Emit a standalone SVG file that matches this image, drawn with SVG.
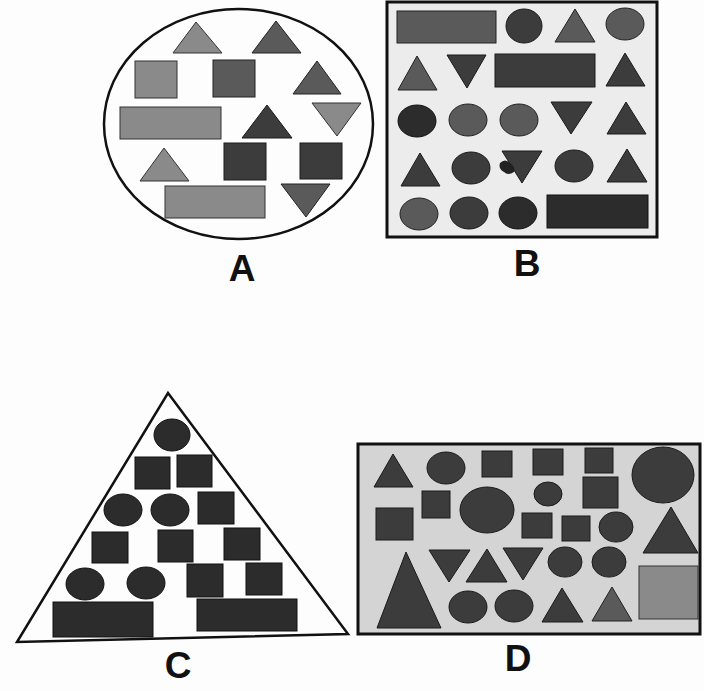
<svg xmlns="http://www.w3.org/2000/svg" width="704" height="691" viewBox="0 0 704 691">
<style>
.frame{fill:none;stroke:#111;stroke-width:2.5}
.lt{fill:#8a8a8a;stroke:#333;stroke-width:1}
.md{fill:#5a5a5a;stroke:#222;stroke-width:1}
.dk{fill:#3c3c3c;stroke:#1a1a1a;stroke-width:1}
.vd{fill:#2c2c2c;stroke:#111;stroke-width:1}
.lbl{font-family:"Liberation Sans",Arial,sans-serif;font-weight:bold;font-size:37px;fill:#111;text-anchor:middle}
</style>
<rect width="704" height="691" fill="#fdfdfd"/>

<g id="panelA">
<ellipse class="frame" cx="238.5" cy="124" rx="134.5" ry="115" fill="#fbfbfb"/>
<polygon class="lt" points="196,22 222,53 173,53"/>
<polygon class="md" points="276,21 301,53 252,53"/>
<rect class="lt" x="135" y="61" width="42" height="37"/>
<rect class="md" x="213" y="60" width="42" height="37"/>
<polygon class="md" points="317,61 341,94 293,94"/>
<rect class="lt" x="120" y="107" width="101" height="32"/>
<polygon class="dk" points="267,105 292,138 242,138"/>
<polygon class="lt" points="312,103 361,103 337,136"/>
<polygon class="lt" points="164,148 189,181 140,181"/>
<rect class="dk" x="224" y="143" width="42" height="37"/>
<rect class="dk" x="300" y="143" width="42" height="36"/>
<rect class="lt" x="165" y="186" width="100" height="32"/>
<polygon class="md" points="281,184 330,184 306,217"/>
<text class="lbl" x="242" y="281">A</text>
</g>

<g id="panelB">
<rect x="387" y="2" width="270" height="235" fill="#ececec" stroke="#111" stroke-width="3"/>
<rect class="md" x="397" y="11" width="99" height="32"/>
<ellipse class="dk" cx="524" cy="26" rx="18" ry="17"/>
<polygon class="md" points="575,9 595,42 555,42"/>
<ellipse class="md" cx="625" cy="24" rx="19" ry="16"/>
<polygon class="md" points="417,56 437,90 398,90"/>
<polygon class="dk" points="447,55 486,55 467,88"/>
<rect class="dk" x="495" y="54" width="100" height="33"/>
<polygon class="dk" points="625,53 645,86 606,86"/>
<ellipse class="vd" cx="417" cy="121" rx="19" ry="16"/>
<ellipse class="md" cx="468" cy="120" rx="19" ry="16"/>
<ellipse class="md" cx="519" cy="120" rx="19" ry="16"/>
<polygon class="dk" points="551,102 592,102 571,134"/>
<polygon class="dk" points="626,102 646,134 607,134"/>
<polygon class="dk" points="420,153 440,186 401,186"/>
<ellipse class="dk" cx="471" cy="168" rx="19" ry="16"/>
<polygon class="dk" points="502,151 542,151 522,183"/>
<path d="M500,163 q5,-5 10,0 q6,4 4,9 q-6,4 -10,0 q-6,-3 -4,-9z" fill="#222"/>
<ellipse class="dk" cx="574" cy="166" rx="19" ry="16"/>
<polygon class="dk" points="627,149 647,182 607,182"/>
<ellipse class="md" cx="419" cy="214" rx="19" ry="16"/>
<ellipse class="dk" cx="469" cy="213" rx="19" ry="16"/>
<ellipse class="vd" cx="518" cy="213" rx="19" ry="16"/>
<rect class="vd" x="547" y="195" width="101" height="33"/>
<text class="lbl" x="527" y="276">B</text>
</g>

<g id="panelC">
<polygon class="frame" points="168,393 348,634 17,642" fill="#fcfcfc"/>
<ellipse class="vd" cx="172" cy="435" rx="18" ry="16"/>
<rect class="vd" x="135" y="457" width="35" height="32"/>
<rect class="vd" x="177" y="455" width="35" height="32"/>
<ellipse class="vd" cx="123" cy="510" rx="19" ry="16"/>
<ellipse class="vd" cx="170" cy="510" rx="19" ry="16"/>
<rect class="vd" x="198" y="492" width="36" height="32"/>
<rect class="vd" x="92" y="532" width="36" height="31"/>
<rect class="vd" x="158" y="530" width="35" height="32"/>
<rect class="vd" x="224" y="528" width="36" height="32"/>
<ellipse class="vd" cx="85" cy="584" rx="19" ry="16"/>
<ellipse class="vd" cx="146" cy="583" rx="19" ry="16"/>
<rect class="vd" x="187" y="564" width="36" height="33"/>
<rect class="vd" x="246" y="563" width="36" height="32"/>
<rect class="vd" x="53" y="602" width="100" height="35"/>
<rect class="vd" x="197" y="599" width="100" height="32"/>
<text class="lbl" x="178" y="678">C</text>
</g>

<g id="panelD">
<rect x="358" y="444" width="342" height="190" fill="#d4d4d4" stroke="#111" stroke-width="3"/>
<polygon class="dk" points="393,454 413,487 374,487"/>
<ellipse class="dk" cx="446" cy="468" rx="19" ry="16"/>
<rect class="dk" x="482" y="451" width="30" height="26"/>
<rect class="dk" x="533" y="449" width="30" height="26"/>
<rect class="dk" x="585" y="448" width="28" height="25"/>
<ellipse class="dk" cx="663" cy="475" rx="31" ry="28"/>
<rect class="dk" x="422" y="491" width="28" height="27"/>
<ellipse class="dk" cx="487" cy="510" rx="27" ry="23"/>
<ellipse class="dk" cx="548" cy="494" rx="14" ry="12"/>
<rect class="dk" x="583" y="477" width="35" height="31"/>
<rect class="dk" x="376" y="508" width="37" height="32"/>
<rect class="dk" x="522" y="513" width="30" height="25"/>
<rect class="dk" x="562" y="516" width="28" height="25"/>
<ellipse class="dk" cx="616" cy="527" rx="17" ry="15"/>
<polygon class="dk" points="671,507 698,553 643,553"/>
<polygon class="dk" points="406,552 441,628 377,628"/>
<polygon class="dk" points="429,550 470,550 449,582"/>
<polygon class="dk" points="487,549 507,582 466,582"/>
<polygon class="dk" points="503,548 543,548 523,580"/>
<ellipse class="dk" cx="565" cy="562" rx="17" ry="15"/>
<ellipse class="dk" cx="609" cy="562" rx="17" ry="15"/>
<rect class="lt" x="639" y="566" width="59" height="53"/>
<ellipse class="dk" cx="468" cy="607" rx="19" ry="16"/>
<ellipse class="dk" cx="514" cy="606" rx="19" ry="16"/>
<polygon class="dk" points="562,588 583,622 542,622"/>
<polygon class="md" points="612,587 632,621 592,621"/>
<text class="lbl" x="518" y="671">D</text>
</g>
</svg>
